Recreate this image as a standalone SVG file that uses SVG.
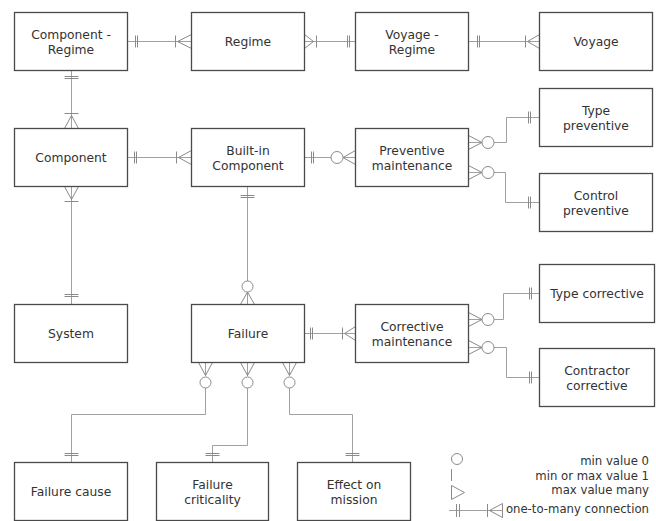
<svg xmlns="http://www.w3.org/2000/svg" width="656" height="521" viewBox="0 0 656 521">
<style>
.box{fill:#fff;stroke:#4a4a4a;stroke-width:1.3}
.t{font-family:"DejaVu Sans",Verdana,sans-serif;font-size:12.3px;fill:#333;text-anchor:middle}
.lg{font-family:"DejaVu Sans",Verdana,sans-serif;font-size:11.7px;fill:#333;text-anchor:end}
.ln{fill:none;stroke:#a0a0a0;stroke-width:1}
.mk{fill:none;stroke:#8a8a8a;stroke-width:1}
.ci{fill:#fff;stroke:#8a8a8a;stroke-width:1}
</style>
<rect width="656" height="521" fill="#fff"/>
<g id="connectors">
  <g id="c-cr-regime">
    <path class="ln" d="M127.5 41.5H191.5"/>
    <path class="mk" d="M135.5 35.5V47.5M137.5 35.5V47.5M175.5 35.5V47.5M191.5 34.5L177.5 41.5L191.5 48.5"/>
  </g>
  <g id="c-regime-vr">
    <path class="ln" d="M304.5 41.5H355.5"/>
    <path class="mk" d="M304.5 34.5L313.5 41.5L304.5 48.5M316.5 35.5V47.5M347.5 35.5V47.5M349.5 35.5V47.5"/>
  </g>
  <g id="c-vr-voyage">
    <path class="ln" d="M468.5 41.5H539.5"/>
    <path class="mk" d="M477.5 35.5V47.5M479.5 35.5V47.5M525.5 35.5V47.5M539.5 34.5L527.5 41.5L539.5 48.5"/>
  </g>
  <g id="c-cr-component">
    <path class="ln" d="M71.5 70.5V128.5"/>
    <path class="mk" d="M64.5 76.5H78.5M64.5 78.5H78.5M64.5 113.5H78.5M64.5 128.5L71.5 115.5L78.5 128.5"/>
  </g>
  <g id="c-component-bic">
    <path class="ln" d="M127.5 157.5H191.5"/>
    <path class="mk" d="M134.5 151.5V163.5M136.5 151.5V163.5M176.5 151.5V163.5M191.5 150.5L178.5 157.5L191.5 164.5"/>
  </g>
  <g id="c-component-system">
    <path class="ln" d="M71.5 186.5V304.5"/>
    <path class="mk" d="M64.5 186.5L71.5 199.5L78.5 186.5M64.5 201.5H78.5M64.5 294.5H78.5M64.5 296.5H78.5"/>
  </g>
  <g id="c-bic-failure">
    <path class="ln" d="M247.5 186.5V281M247.5 292V304.5"/>
    <path class="mk" d="M240.5 195.5H254.5M240.5 197.5H254.5M240.5 304.5L247.5 292L254.5 304.5"/>
    <circle class="ci" cx="247.5" cy="286.5" r="5.5"/>
  </g>
  <g id="c-bic-pm">
    <path class="ln" d="M304.5 157.5H331M343 157.5H355.5"/>
    <path class="mk" d="M311.5 151.5V163.5M313.5 151.5V163.5M355.5 150.5L343 157.5L355.5 164.5"/>
    <circle class="ci" cx="337" cy="157.5" r="6"/>
  </g>
  <g id="c-pm-tp">
    <path class="ln" d="M468.5 142.5H482M494 142.5H506.5V117.5H539.5"/>
    <path class="mk" d="M468.5 135.5L482 142.5L468.5 149.5M528.5 111.5V123.5M530.5 111.5V123.5"/>
    <circle class="ci" cx="488" cy="142.5" r="6"/>
  </g>
  <g id="c-pm-cp">
    <path class="ln" d="M468.5 172.5H482M494 172.5H505.5V202.5H539.5"/>
    <path class="mk" d="M468.5 165.5L482 172.5L468.5 179.5M528.5 196.5V208.5M530.5 196.5V208.5"/>
    <circle class="ci" cx="488" cy="172.5" r="6"/>
  </g>
  <g id="c-failure-cm">
    <path class="ln" d="M304.5 333.5H355.5"/>
    <path class="mk" d="M310.5 327.5V339.5M312.5 327.5V339.5M342.5 327.5V339.5M355.5 326.5L344.5 333.5L355.5 340.5"/>
  </g>
  <g id="c-cm-tc">
    <path class="ln" d="M468.5 319.5H482M494 319.5H503.5V293.5H539.5"/>
    <path class="mk" d="M468.5 312.5L482 319.5L468.5 326.5M529.5 287.5V299.5M531.5 287.5V299.5"/>
    <circle class="ci" cx="488" cy="319.5" r="6"/>
  </g>
  <g id="c-cm-ctc">
    <path class="ln" d="M468.5 347.5H482M494 347.5H506.5V377.5H539.5"/>
    <path class="mk" d="M468.5 340.5L482 347.5L468.5 354.5M529.5 371.5V383.5M531.5 371.5V383.5"/>
    <circle class="ci" cx="488" cy="347.5" r="6"/>
  </g>
  <g id="c-failure-fc">
    <path class="ln" d="M205.5 362.5V376M205.5 388V414.5H71.5V462.5"/>
    <path class="mk" d="M198.5 362.5L205.5 375.5L212.5 362.5M64.5 453.5H78.5M64.5 455.5H78.5"/>
    <circle class="ci" cx="205.5" cy="382.5" r="5.5"/>
  </g>
  <g id="c-failure-fcr">
    <path class="ln" d="M247.5 362.5V376M247.5 388V445.5H212.5V462.5"/>
    <path class="mk" d="M240.5 362.5L247.5 375.5L254.5 362.5M205.5 453.5H219.5M205.5 455.5H219.5"/>
    <circle class="ci" cx="247.5" cy="382.5" r="5.5"/>
  </g>
  <g id="c-failure-eom">
    <path class="ln" d="M289.5 362.5V376M289.5 388V414.5H352.5V462.5"/>
    <path class="mk" d="M282.5 362.5L289.5 375.5L296.5 362.5M345.5 453.5H359.5M345.5 455.5H359.5"/>
    <circle class="ci" cx="289.5" cy="382.5" r="5.5"/>
  </g>
</g>
<g id="n-cr"><rect class="box" x="14.5" y="12.5" width="113" height="58"/><text class="t" x="71" y="38.5">Component -</text><text class="t" x="71" y="53.5">Regime</text></g>
<g id="n-regime"><rect class="box" x="191.5" y="12.5" width="113" height="58"/><text class="t" x="248" y="46">Regime</text></g>
<g id="n-vr"><rect class="box" x="355.5" y="12.5" width="113" height="58"/><text class="t" x="412" y="38.5">Voyage -</text><text class="t" x="412" y="53.5">Regime</text></g>
<g id="n-voyage"><rect class="box" x="539.5" y="12.5" width="113" height="58"/><text class="t" x="596" y="46">Voyage</text></g>
<g id="n-tp"><rect class="box" x="539.5" y="88.5" width="113" height="58"/><text class="t" x="596" y="114.5">Type</text><text class="t" x="596" y="129.5">preventive</text></g>
<g id="n-component"><rect class="box" x="14.5" y="128.5" width="113" height="58"/><text class="t" x="71" y="162">Component</text></g>
<g id="n-bic"><rect class="box" x="191.5" y="128.5" width="113" height="58"/><text class="t" x="248" y="154.5">Built-in</text><text class="t" x="248" y="169.5">Component</text></g>
<g id="n-pm"><rect class="box" x="355.5" y="128.5" width="113" height="58"/><text class="t" x="412" y="154.5">Preventive</text><text class="t" x="412" y="169.5">maintenance</text></g>
<g id="n-cp"><rect class="box" x="539.5" y="173.5" width="113" height="58"/><text class="t" x="596" y="199.5">Control</text><text class="t" x="596" y="214.5">preventive</text></g>
<g id="n-system"><rect class="box" x="14.5" y="304.5" width="113" height="58"/><text class="t" x="71" y="338">System</text></g>
<g id="n-failure"><rect class="box" x="191.5" y="304.5" width="113" height="58"/><text class="t" x="248" y="338">Failure</text></g>
<g id="n-cm"><rect class="box" x="355.5" y="304.5" width="113" height="58"/><text class="t" x="412" y="330.5">Corrective</text><text class="t" x="412" y="345.5">maintenance</text></g>
<g id="n-tc"><rect class="box" x="539.5" y="264.5" width="115" height="58"/><text class="t" x="597" y="298">Type corrective</text></g>
<g id="n-ctc"><rect class="box" x="539.5" y="348.5" width="115" height="58"/><text class="t" x="597" y="374.5">Contractor</text><text class="t" x="597" y="389.5">corrective</text></g>
<g id="n-fc"><rect class="box" x="14.5" y="462.5" width="113" height="58"/><text class="t" x="71" y="496">Failure cause</text></g>
<g id="n-fcr"><rect class="box" x="156.5" y="462.5" width="112" height="58"/><text class="t" x="212.5" y="488.5">Failure</text><text class="t" x="212.5" y="503.5">criticality</text></g>
<g id="n-eom"><rect class="box" x="297.5" y="462.5" width="113" height="58"/><text class="t" x="354" y="488.5">Effect on</text><text class="t" x="354" y="503.5">mission</text></g>
<g id="legend">
  <circle class="ci" cx="457" cy="459" r="5.5"/>
  <path class="mk" d="M451.5 469V481M451.5 485.5L464.5 492.5L451.5 499.5Z"/>
  <path class="ln" d="M449 510.5H502.5"/>
  <path class="mk" d="M456.5 504V517M459.5 504V517M487.5 504V517M502.5 503.5L489.5 510.5L502.5 517.5Z"/>
  <text class="lg" x="649" y="465">min value 0</text>
  <text class="lg" x="649" y="480">min or max value 1</text>
  <text class="lg" x="649" y="494">max value many</text>
  <text class="lg" x="649" y="513">one-to-many connection</text>
</g>
</svg>
